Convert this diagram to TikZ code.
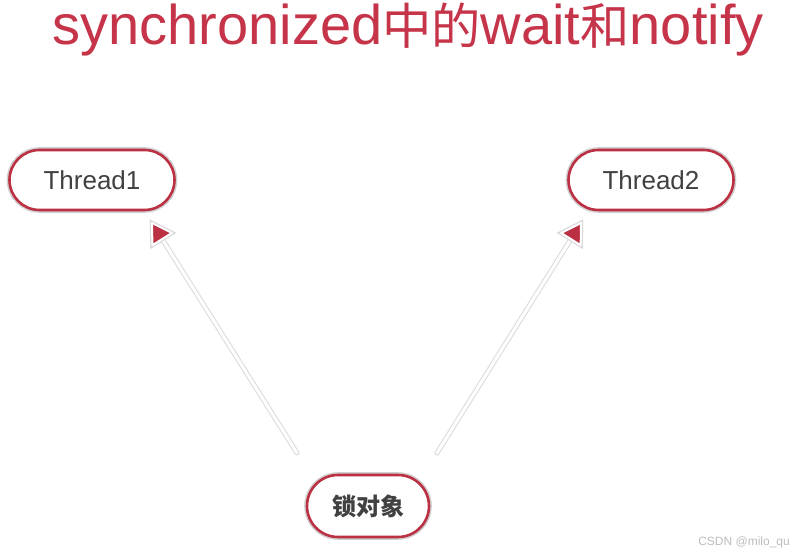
\documentclass[tikz,border=0pt]{standalone}
\usepackage{fontspec}
\setmainfont{Liberation Sans}
\newfontfamily\cjk{Noto Sans CJK SC}
\newfontfamily\cjktitle[Scale=0.88]{Noto Sans CJK SC}
\usetikzlibrary{arrows.meta,calc,shapes.misc}
\definecolor{TitleRed}{HTML}{C6344A}
\definecolor{EdgeRed}{HTML}{BB3043}
\definecolor{LabelGray}{HTML}{414141}
\definecolor{HaloGray}{HTML}{CFCFCF}
\definecolor{ShaftGray}{HTML}{DADADA}
\definecolor{MarkGray}{HTML}{BDBDBD}
\tikzset{
  pillbox/.style={rounded rectangle,draw=EdgeRed,line width=2.6pt,
    fill=white,text=LabelGray,inner sep=0pt,
    preaction={draw=HaloGray,line width=5.6pt}},
  shaft/.style={draw=ShaftGray,line width=5pt,line cap=round,
    postaction={draw=white,line width=3pt}},
  tiphead/.style={fill=EdgeRed,draw=white,line width=2pt,line join=round,
    preaction={draw=ShaftGray,line width=4.4pt}}
}

\begin{document}
\begin{tikzpicture}[x=1pt,y=1pt]
    \useasboundingbox[fill=white] (0,0) rectangle (807,557);

    % title
    \node[anchor=base,text=TitleRed,inner sep=0pt,
          font=\fontsize{56}{60}\selectfont] (title) at (408,512)
      {synchronized{\cjktitle 中的}wait{\cjktitle 和}notify};

    % threads and lock object
    \node[pillbox,minimum width=165pt,minimum height=60pt,
          font=\fontsize{26}{28}\selectfont] (thread1) at (92,377) {Thread1};
    \node[pillbox,minimum width=165pt,minimum height=60pt,
          font=\fontsize{26}{28}\selectfont] (thread2) at (651,377) {Thread2};
    \node[pillbox,minimum width=122pt,minimum height=62pt,
          font=\cjk\bfseries\fontsize{24}{26}\selectfont] (lockobj) at (368,51)
      {锁对象};

    % arrows from lock object
    \coordinate (s1) at (297,104);
    \coordinate (e1) at (152,334);
    \coordinate (s2) at (437,104);
    \coordinate (e2) at (581,334);
    \coordinate (b1) at ($(e1)!19pt!(s1)$);
    \coordinate (b2) at ($(e2)!19pt!(s2)$);
    \draw[shaft] (s1) -- (b1);
    \draw[shaft] (s2) -- (b2);
    \path[tiphead] (e1) -- ($(b1)!11.5pt!90:(e1)$) -- ($(b1)!11.5pt!-90:(e1)$) -- cycle;
    \path[tiphead] (e2) -- ($(b2)!11.5pt!90:(e2)$) -- ($(b2)!11.5pt!-90:(e2)$) -- cycle;

    % watermark
    \node[anchor=base east,text=MarkGray,inner sep=0pt,
          font=\fontsize{12}{14}\selectfont] (mark) at (790,11) {CSDN @milo\_qu};
  \end{tikzpicture}
\end{document}
